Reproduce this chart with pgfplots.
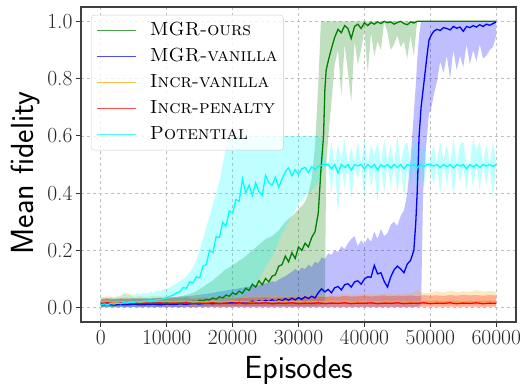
\documentclass[border=0pt]{standalone}
\usepackage{fontspec}
\usepackage{pgfplots}
\usepackage{pgfplotstable}
\pgfplotsset{compat=1.18}
\usepgfplotslibrary{fillbetween}
\definecolor{mgreen}{RGB}{0,128,0}
\definecolor{mblue}{RGB}{0,0,255}
\definecolor{morange}{RGB}{255,165,0}
\definecolor{mred}{RGB}{255,0,0}
\definecolor{mcyan}{RGB}{0,255,255}

\pgfplotstableread{
x mean lo hi
0 0.012 0.002 0.030
500 0.010 0.002 0.028
1000 0.013 0.003 0.032
1500 0.011 0.002 0.029
2000 0.014 0.003 0.031
2500 0.012 0.002 0.030
3000 0.013 0.003 0.033
3500 0.011 0.002 0.029
4000 0.014 0.003 0.031
4500 0.012 0.002 0.030
5000 0.015 0.003 0.034
5500 0.012 0.002 0.030
6000 0.014 0.003 0.032
6500 0.013 0.002 0.031
7000 0.015 0.003 0.033
7500 0.013 0.002 0.030
8000 0.016 0.003 0.034
8500 0.014 0.002 0.032
9000 0.016 0.003 0.035
9500 0.015 0.002 0.033
10000 0.017 0.003 0.036
10500 0.016 0.003 0.034
11000 0.018 0.003 0.038
11500 0.017 0.003 0.036
12000 0.019 0.003 0.040
12500 0.018 0.003 0.042
13000 0.021 0.004 0.045
13500 0.020 0.004 0.048
14000 0.023 0.004 0.052
14500 0.021 0.004 0.058
15000 0.026 0.004 0.065
15500 0.024 0.004 0.072
16000 0.029 0.005 0.080
16500 0.027 0.005 0.088
17000 0.034 0.005 0.095
17500 0.030 0.005 0.105
18000 0.038 0.005 0.115
18500 0.034 0.005 0.125
19000 0.044 0.005 0.135
19500 0.040 0.005 0.140
20000 0.052 0.005 0.150
20500 0.046 0.006 0.155
21000 0.058 0.006 0.165
21500 0.050 0.006 0.170
22000 0.068 0.006 0.180
22500 0.060 0.006 0.190
23000 0.082 0.006 0.200
23500 0.072 0.006 0.210
24000 0.094 0.006 0.220
24500 0.080 0.006 0.230
25000 0.102 0.006 0.240
25500 0.090 0.006 0.245
26000 0.110 0.006 0.250
26500 0.115 0.006 0.260
27000 0.145 0.006 0.270
27500 0.150 0.006 0.285
28000 0.180 0.006 0.300
28500 0.160 0.006 0.310
29000 0.192 0.006 0.320
29500 0.172 0.006 0.330
30000 0.212 0.006 0.345
30500 0.200 0.006 0.355
31000 0.225 0.006 0.370
31500 0.212 0.006 0.400
32000 0.245 0.006 0.450
32500 0.265 0.006 0.560
33000 0.330 0.008 0.780
33400 0.480 0.010 1.000
33800 0.600 0.015 1.000
34000 0.760 0.020 1.000
34200 0.830 0.500 1.000
34600 0.870 0.620 1.000
35000 0.905 0.720 1.000
35500 0.945 0.850 1.000
36000 0.972 0.900 1.000
36500 0.960 0.740 1.000
37000 0.985 0.920 1.000
37500 0.975 0.820 1.000
38000 0.940 0.720 1.000
38500 0.982 0.930 1.000
39000 0.990 0.850 1.000
39500 0.975 0.900 1.000
40000 0.995 0.970 1.000
40500 0.985 0.820 1.000
41000 0.996 0.960 1.000
41500 0.990 0.880 1.000
42000 0.998 0.930 1.000
42500 0.992 0.900 1.000
43000 1.000 1.000 1.000
43500 0.995 0.960 1.000
44000 0.998 0.900 1.000
44500 0.990 0.920 1.000
45000 0.996 0.950 1.000
45500 1.000 0.910 1.000
46000 0.992 0.930 1.000
46500 0.988 0.870 1.000
47000 0.998 0.950 1.000
47500 0.994 0.880 1.000
48000 1.000 1.000 1.000
49000 1.000 1.000 1.000
50000 1.000 1.000 1.000
52000 1.000 1.000 1.000
54000 1.000 1.000 1.000
56000 1.000 1.000 1.000
58000 1.000 1.000 1.000
60000 1.000 1.000 1.000
}\greendata

\pgfplotstableread{
x mean lo hi
0 0.010 0.001 0.028
1000 0.012 0.002 0.030
2000 0.009 0.001 0.029
3000 0.011 0.002 0.031
4000 0.010 0.001 0.030
5000 0.012 0.002 0.032
6000 0.010 0.001 0.031
7000 0.011 0.002 0.033
8000 0.012 0.001 0.032
9000 0.010 0.002 0.034
10000 0.012 0.001 0.035
11000 0.011 0.002 0.036
12000 0.013 0.001 0.038
13000 0.012 0.002 0.040
14000 0.014 0.001 0.042
15000 0.013 0.002 0.045
16000 0.015 0.002 0.048
17000 0.014 0.002 0.052
18000 0.016 0.002 0.056
19000 0.015 0.002 0.060
20000 0.018 0.002 0.064
20500 0.015 0.002 0.066
21000 0.020 0.002 0.068
21500 0.016 0.002 0.070
22000 0.021 0.002 0.072
22500 0.017 0.002 0.074
23000 0.023 0.002 0.076
23500 0.019 0.002 0.078
24000 0.025 0.002 0.080
24500 0.020 0.002 0.082
25000 0.026 0.002 0.085
25500 0.021 0.002 0.088
26000 0.028 0.002 0.092
26500 0.022 0.002 0.090
27000 0.029 0.002 0.098
27500 0.024 0.002 0.105
28000 0.032 0.002 0.110
28500 0.026 0.002 0.118
29000 0.033 0.002 0.125
29500 0.027 0.002 0.135
30000 0.035 0.002 0.128
30500 0.029 0.002 0.140
31000 0.038 0.002 0.135
31500 0.032 0.002 0.150
32000 0.040 0.002 0.142
32500 0.034 0.002 0.160
33000 0.052 0.002 0.155
33500 0.066 0.002 0.175
34000 0.055 0.002 0.170
34500 0.064 0.002 0.190
35000 0.052 0.002 0.185
35500 0.070 0.002 0.200
36000 0.074 0.002 0.195
36500 0.062 0.002 0.215
37000 0.080 0.002 0.205
37500 0.084 0.002 0.225
38000 0.072 0.002 0.240
38500 0.090 0.002 0.250
39000 0.094 0.002 0.215
39500 0.082 0.002 0.235
40000 0.100 0.002 0.220
40500 0.108 0.002 0.245
41000 0.106 0.002 0.230
41500 0.148 0.002 0.265
42000 0.118 0.002 0.240
42500 0.122 0.002 0.275
43000 0.092 0.002 0.250
43500 0.072 0.002 0.260
44000 0.108 0.002 0.290
44500 0.132 0.002 0.300
45000 0.145 0.002 0.285
45500 0.135 0.002 0.320
46000 0.122 0.002 0.340
46500 0.152 0.002 0.400
47000 0.165 0.002 0.520
47500 0.200 0.002 0.680
47800 0.300 0.002 0.780
48000 0.400 0.003 0.860
48300 0.600 0.005 0.950
48600 0.700 0.010 1.000
48900 0.760 0.400 1.000
49200 0.820 0.520 1.000
49500 0.880 0.600 1.000
49800 0.935 0.680 1.000
50100 0.950 0.690 1.000
50500 0.965 0.740 1.000
51000 0.972 0.790 1.000
51500 0.968 0.860 1.000
52000 0.978 0.820 1.000
52500 0.975 0.880 1.000
53000 0.970 0.800 1.000
53500 0.982 0.900 1.000
54000 0.976 0.830 1.000
54500 0.980 0.880 1.000
55000 0.965 0.840 1.000
55500 0.982 0.920 1.000
56000 0.978 0.850 1.000
56500 0.985 0.900 1.000
57000 0.980 0.860 1.000
57500 0.988 0.920 1.000
58000 0.982 0.870 1.000
58500 0.990 0.880 1.000
59000 0.986 0.900 1.000
59500 0.992 0.910 1.000
60000 0.998 0.950 1.000
}\bluedata

\pgfplotstableread{
x mean lo hi
0 0.020 0.006 0.036
1000 0.022 0.007 0.040
2000 0.019 0.005 0.035
3000 0.021 0.006 0.041
4000 0.020 0.005 0.052
5000 0.022 0.007 0.038
6000 0.019 0.006 0.040
7000 0.021 0.005 0.037
8000 0.023 0.007 0.042
9000 0.020 0.006 0.039
10000 0.022 0.005 0.041
11000 0.019 0.006 0.036
12000 0.021 0.007 0.040
13000 0.020 0.005 0.038
14000 0.022 0.006 0.042
15000 0.021 0.007 0.039
16000 0.019 0.005 0.037
17000 0.022 0.006 0.041
18000 0.020 0.007 0.040
19000 0.021 0.005 0.038
20000 0.023 0.006 0.043
21000 0.020 0.007 0.039
22000 0.021 0.005 0.041
23000 0.019 0.006 0.038
24000 0.022 0.006 0.042
25000 0.020 0.005 0.040
26000 0.021 0.007 0.043
27000 0.023 0.006 0.044
28000 0.020 0.005 0.041
29000 0.022 0.006 0.045
30000 0.021 0.007 0.042
31000 0.019 0.005 0.044
32000 0.022 0.006 0.046
33000 0.020 0.006 0.043
34000 0.021 0.005 0.047
35000 0.023 0.007 0.045
36000 0.020 0.006 0.044
37000 0.022 0.005 0.048
38000 0.021 0.006 0.046
39000 0.019 0.007 0.045
40000 0.022 0.005 0.049
41000 0.020 0.006 0.047
42000 0.021 0.006 0.046
43000 0.023 0.005 0.050
44000 0.020 0.007 0.048
45000 0.022 0.006 0.047
46000 0.021 0.005 0.051
47000 0.019 0.006 0.049
48000 0.022 0.007 0.062
49000 0.020 0.005 0.050
50000 0.021 0.006 0.052
51000 0.023 0.006 0.058
52000 0.020 0.005 0.053
53000 0.022 0.007 0.060
54000 0.021 0.006 0.054
55000 0.019 0.005 0.057
56000 0.022 0.006 0.055
57000 0.020 0.007 0.061
58000 0.021 0.005 0.056
59000 0.023 0.006 0.058
60000 0.021 0.006 0.055
}\orangedata

\pgfplotstableread{
x mean lo hi
0 0.015 0.002 0.032
1000 0.017 0.003 0.034
2000 0.014 0.002 0.031
3000 0.016 0.003 0.033
4000 0.015 0.002 0.035
5000 0.017 0.003 0.032
6000 0.014 0.002 0.034
7000 0.016 0.003 0.031
8000 0.015 0.002 0.033
9000 0.017 0.003 0.035
10000 0.014 0.002 0.032
11000 0.016 0.003 0.034
12000 0.015 0.002 0.033
13000 0.017 0.003 0.036
14000 0.014 0.002 0.032
15000 0.016 0.003 0.034
16000 0.015 0.002 0.035
17000 0.017 0.003 0.033
18000 0.014 0.002 0.034
19000 0.016 0.003 0.036
20000 0.015 0.002 0.033
21000 0.017 0.003 0.035
22000 0.014 0.002 0.034
23000 0.016 0.003 0.036
24000 0.015 0.002 0.035
25000 0.017 0.003 0.037
26000 0.014 0.002 0.034
27000 0.016 0.003 0.036
28000 0.015 0.002 0.035
29000 0.017 0.003 0.038
30000 0.014 0.002 0.036
31000 0.016 0.003 0.037
32000 0.015 0.002 0.036
33000 0.017 0.003 0.039
34000 0.014 0.002 0.037
35000 0.016 0.003 0.040
36000 0.015 0.002 0.038
37000 0.017 0.003 0.041
38000 0.014 0.002 0.039
39000 0.016 0.003 0.040
40000 0.015 0.002 0.042
41000 0.017 0.003 0.039
42000 0.014 0.002 0.041
43000 0.016 0.003 0.043
44000 0.015 0.002 0.040
45000 0.017 0.003 0.042
46000 0.014 0.002 0.041
47000 0.016 0.003 0.043
48000 0.015 0.002 0.040
49000 0.017 0.003 0.044
50000 0.014 0.002 0.042
51000 0.016 0.003 0.043
52000 0.015 0.002 0.041
53000 0.017 0.003 0.044
54000 0.014 0.002 0.042
55000 0.016 0.003 0.045
56000 0.015 0.002 0.043
57000 0.017 0.003 0.044
58000 0.014 0.002 0.042
59000 0.016 0.003 0.044
60000 0.015 0.002 0.043
}\reddata

\pgfplotstableread{
x mean lo hi
0 0.010 0.002 0.030
500 0.013 0.002 0.035
1000 0.011 0.002 0.032
1500 0.014 0.002 0.038
2000 0.013 0.002 0.034
2500 0.016 0.003 0.040
3000 0.014 0.003 0.036
3500 0.017 0.003 0.055
4000 0.016 0.003 0.042
4500 0.019 0.003 0.046
5000 0.018 0.003 0.044
5500 0.021 0.003 0.050
6000 0.020 0.003 0.046
6500 0.023 0.003 0.052
7000 0.022 0.003 0.048
7500 0.025 0.004 0.056
8000 0.024 0.004 0.052
8500 0.028 0.004 0.060
9000 0.027 0.004 0.056
9500 0.031 0.004 0.064
10000 0.034 0.004 0.066
10500 0.040 0.004 0.072
11000 0.044 0.004 0.078
11500 0.052 0.005 0.085
12000 0.056 0.005 0.092
12500 0.070 0.005 0.100
13000 0.068 0.005 0.110
13500 0.090 0.006 0.125
14000 0.086 0.006 0.140
14500 0.108 0.007 0.165
15000 0.104 0.008 0.200
15500 0.145 0.009 0.240
16000 0.150 0.010 0.280
16500 0.200 0.012 0.320
17000 0.192 0.014 0.360
17500 0.248 0.016 0.400
18000 0.245 0.018 0.440
18500 0.298 0.020 0.500
19000 0.285 0.022 0.560
19500 0.338 0.024 0.600
20000 0.330 0.026 0.600
20500 0.378 0.030 0.600
21000 0.372 0.035 0.600
21500 0.450 0.040 0.600
22000 0.400 0.050 0.600
22500 0.428 0.060 0.600
23000 0.392 0.070 0.600
23500 0.436 0.085 0.600
24000 0.405 0.100 0.600
24500 0.392 0.120 0.600
25000 0.462 0.140 0.600
25500 0.436 0.160 0.600
26000 0.428 0.180 0.600
26500 0.456 0.205 0.600
27000 0.420 0.230 0.600
27500 0.450 0.255 0.600
28000 0.475 0.280 0.600
28500 0.488 0.300 0.600
29000 0.460 0.320 0.600
29500 0.482 0.340 0.600
30000 0.466 0.360 0.600
30500 0.485 0.375 0.600
31000 0.490 0.390 0.600
31500 0.472 0.400 0.600
32000 0.492 0.410 0.600
32500 0.482 0.425 0.600
33000 0.494 0.440 0.600
33500 0.497 0.470 0.590
34000 0.500 0.490 0.520
34500 0.500 0.500 0.500
35000 0.485 0.400 0.580
35500 0.500 0.500 0.500
36000 0.470 0.330 0.570
36500 0.500 0.500 0.520
37000 0.490 0.420 0.590
37500 0.500 0.500 0.500
38000 0.480 0.380 0.560
38500 0.500 0.490 0.510
39000 0.495 0.450 0.580
39500 0.500 0.500 0.500
40000 0.485 0.380 0.590
40500 0.500 0.500 0.500
41000 0.490 0.420 0.570
41500 0.500 0.480 0.530
42000 0.480 0.370 0.580
42500 0.500 0.500 0.500
43000 0.492 0.400 0.590
43500 0.500 0.500 0.510
44000 0.488 0.420 0.570
44500 0.500 0.500 0.500
45000 0.490 0.400 0.600
45500 0.500 0.500 0.500
46000 0.485 0.380 0.560
46500 0.500 0.490 0.580
47000 0.495 0.430 0.500
47500 0.500 0.500 0.590
48000 0.488 0.400 0.570
48500 0.500 0.500 0.500
49000 0.493 0.420 0.580
49500 0.500 0.500 0.500
50000 0.500 0.480 0.520
50500 0.495 0.430 0.570
51000 0.500 0.500 0.500
51500 0.490 0.400 0.580
52000 0.500 0.500 0.510
52500 0.492 0.430 0.570
53000 0.500 0.500 0.500
53500 0.488 0.390 0.590
54000 0.500 0.500 0.500
54500 0.495 0.440 0.570
55000 0.500 0.490 0.580
55500 0.485 0.410 0.500
56000 0.500 0.500 0.500
56500 0.492 0.420 0.590
57000 0.500 0.500 0.550
57500 0.490 0.410 0.580
58000 0.500 0.500 0.500
58500 0.495 0.430 0.570
59000 0.500 0.500 0.500
59500 0.493 0.380 0.580
60000 0.500 0.500 0.500
}\cyandata

\begin{document}
\begin{tikzpicture}
\begin{axis}[
  scale only axis,
  width=435pt, height=315pt,
  xmin=-3000, xmax=63000,
  ymin=-0.05, ymax=1.05,
  scaled x ticks=false, scaled y ticks=false,
  xtick={0,10000,20000,30000,40000,50000,60000},
  xticklabels={0,10000,20000,30000,40000,50000,60000},
  ytick={0,0.2,0.4,0.6,0.8,1.0},
  yticklabels={0.0,0.2,0.4,0.6,0.8,1.0},
  tick label style={font=\fontsize{21.5}{24}\selectfont, text=black!85},
  tick align=outside,
  xtick pos=left, ytick pos=left,
  major tick length=5pt,
  tick style={black!80, line width=0.9pt},
  axis line style={black!75, line width=1.2pt},
  grid=major,
  major grid style={dashed, black!25, line width=0.7pt},
  xlabel={\sffamily Episodes},
  ylabel={\sffamily Mean fidelity},
  xlabel style={font=\fontsize{32}{36}\selectfont, at={(axis description cs:0.5,0)}, anchor=base, yshift=-56pt},
  ylabel style={font=\fontsize{32}{36}\selectfont, at={(axis description cs:-0.1103,0.473)}, anchor=base},
  legend cell align=left,
  legend style={at={(axis description cs:0,1)}, anchor=north west, xshift=10pt, yshift=-8pt,
    draw=black!20, rounded corners=3pt, fill=white, fill opacity=0.8, text opacity=1,
    font=\fontsize{19}{22}\selectfont, inner xsep=5pt, inner ysep=6pt,
    nodes={inner sep=1pt, text height=13pt, text depth=4pt}, row sep=7pt},
  legend image code/.code={\draw[#1, opacity=0.7, line width=1.5pt] (0pt,0pt) -- (39pt,0pt); \path[draw=none, fill=none] (52pt,0pt);},
]
\coordinate (sw) at (rel axis cs:0,0);
% bands
\addplot[draw=none, forget plot, name path=gu] table[x=x,y=hi]{\greendata};
\addplot[draw=none, forget plot, name path=gl] table[x=x,y=lo]{\greendata};
\addplot[mgreen, fill opacity=0.25, draw=none, forget plot] fill between[of=gu and gl];
\addplot[draw=none, forget plot, name path=bu] table[x=x,y=hi]{\bluedata};
\addplot[draw=none, forget plot, name path=bl] table[x=x,y=lo]{\bluedata};
\addplot[mblue, fill opacity=0.25, draw=none, forget plot] fill between[of=bu and bl];
\addplot[draw=none, forget plot, name path=ou] table[x=x,y=hi]{\orangedata};
\addplot[draw=none, forget plot, name path=ol] table[x=x,y=lo]{\orangedata};
\addplot[morange, fill opacity=0.25, draw=none, forget plot] fill between[of=ou and ol];
\addplot[draw=none, forget plot, name path=ru] table[x=x,y=hi]{\reddata};
\addplot[draw=none, forget plot, name path=rl] table[x=x,y=lo]{\reddata};
\addplot[mred, fill opacity=0.25, draw=none, forget plot] fill between[of=ru and rl];
\addplot[draw=none, forget plot, name path=cu] table[x=x,y=hi]{\cyandata};
\addplot[draw=none, forget plot, name path=cl] table[x=x,y=lo]{\cyandata};
\addplot[mcyan, fill opacity=0.25, draw=none, forget plot] fill between[of=cu and cl];
% means
\addplot[mgreen, line width=1.3pt, no marks] table[x=x,y=mean]{\greendata};
\addlegendentry{\textsc{MGR-ours}}
\addplot[mblue, line width=1.3pt, no marks] table[x=x,y=mean]{\bluedata};
\addlegendentry{\textsc{MGR-vanilla}}
\addplot[morange, line width=1.3pt, no marks] table[x=x,y=mean]{\orangedata};
\addlegendentry{\textsc{Incr-vanilla}}
\addplot[mred, line width=1.3pt, no marks] table[x=x,y=mean]{\reddata};
\addlegendentry{\textsc{Incr-penalty}}
\addplot[mcyan, line width=1.3pt, no marks] table[x=x,y=mean]{\cyandata};
\addlegendentry{\textsc{Potential}}
\end{axis}
\pgfresetboundingbox
\path[use as bounding box] (sw) ++(-81pt,-61pt) rectangle ++(524pt,383pt);
\end{tikzpicture}
\end{document}
